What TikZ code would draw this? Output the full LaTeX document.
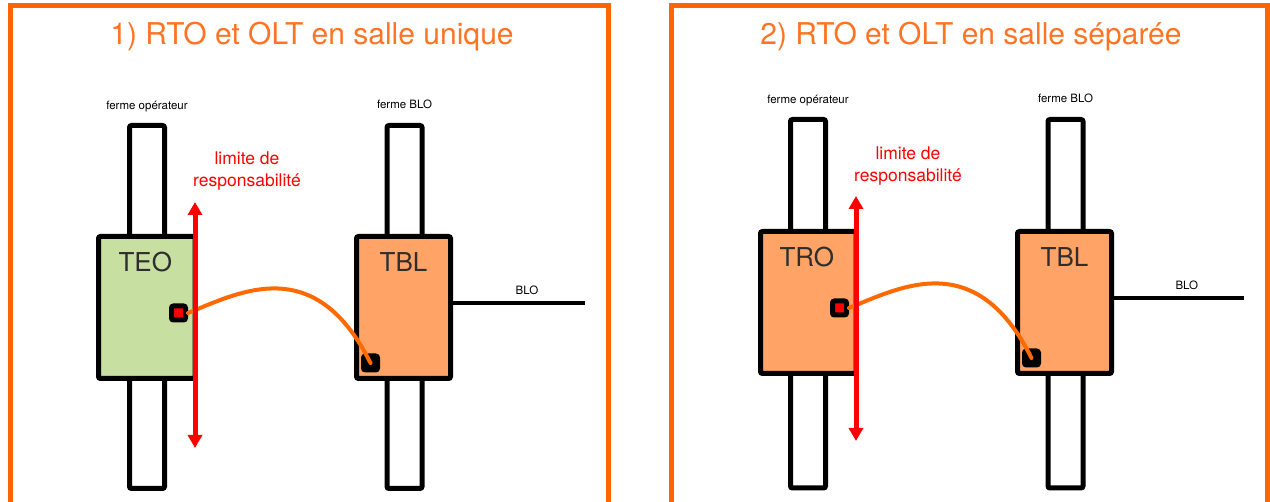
\documentclass[tikz,border=0pt]{standalone}
\usepackage{fontspec}
\setmainfont{TeX Gyre Heros}
\usetikzlibrary{positioning,arrows.meta}

\definecolor{orangecadre}{HTML}{FF6600}
\definecolor{orangetitre}{HTML}{FF7424}
\definecolor{vert}{HTML}{C8DFA2}
\definecolor{orangeclair}{HTML}{FFA466}
\definecolor{cable}{HTML}{FF6A00}
\definecolor{gristexte}{HTML}{2E2E2E}

\begin{document}
\begin{tikzpicture}[x=1pt,y=-1pt,
  cadre/.style={draw=orangecadre,line width=5pt},
  titre/.style={text=orangetitre,font=\fontsize{30}{32}\selectfont,inner sep=0pt,anchor=base},
  colonne/.style={draw,line width=5pt,fill=white,rounded corners=2pt,minimum width=35pt,inner sep=0pt},
  tiroir/.style={draw,line width=5pt,rounded corners=2pt,minimum width=94pt,minimum height=142pt,inner sep=0pt},
  port/.style={draw,line width=5pt,rounded corners=2pt,minimum size=14pt,inner sep=0pt},
  nom/.style={text=gristexte,font=\fontsize{26}{26}\selectfont,inner sep=0pt},
  petit/.style={font=\fontsize{11.5}{12}\selectfont,inner sep=0pt},
  limite/.style={text=red,font=\fontsize{17.5}{22}\selectfont,align=center,inner sep=0pt},
  fleche/.style={red,line width=5pt,{Triangle[width=14pt,length=13pt]}-{Triangle[width=14pt,length=13pt]}},
  jarretiere/.style={draw=cable,line width=4pt,line cap=round},
  lien/.style={line width=4pt}]
  \useasboundingbox (0,0) rectangle (1270,502);

  % 1) salle unique
  \draw[cadre] (10,5.5) rectangle (608.5,505);
  \node[titre] (titre1) at (312,45) {1) RTO et OLT en salle unique};
  \node[colonne,minimum height=363pt] (opcol1) at (147,307) {};
  \node[colonne,minimum height=363pt] (blocol1) at (404.5,307) {};
  \node[petit,above=11pt of opcol1.north] (ferme1) {ferme opérateur};
  \node[petit,above=14pt of blocol1.north] (fermeblo1) {ferme BLO};
  \node[tiroir,fill=vert,minimum width=96.5pt] (teo) at (146.75,307.5) {};
  \node[tiroir,fill=orangeclair] (tbl1) at (403.5,307.5) {};
  \node[nom,below=18pt of teo.north,xshift=-1.5pt] (teolbl) {TEO};
  \node[nom,below=18pt of tbl1.north] (tbllbl1) {TBL};
  \coordinate (blo1) at (585,303);
  \draw[lien] (tbl1.east |- blo1) -- node[petit,pos=0.56,above=6pt] (blolbl1) {BLO} (blo1);
  \node[port,fill=red] (p1) at (178.5,313) {};
  \node[port,fill=black] (q1) at (370.5,363) {};
  \draw[jarretiere] (p1.east) .. controls (240,292) and (315,252) .. (q1.center);
  \coordinate (haut1) at (195,202);
  \coordinate (bas1) at (195,448);
  \draw[fleche] (haut1) -- (bas1);
  \node[limite] (lim1) at (247,171) {limite de\\responsabilité};

  % 2) salle separee
  \draw[cadre] (671.5,5.5) rectangle (1267.5,505);
  \node[titre] (titre2) at (971,45) {2) RTO et OLT en salle séparée};
  \node[colonne,minimum height=368.5pt] (opcol2) at (808,303.75) {};
  \node[colonne,minimum height=368.5pt] (blocol2) at (1065.5,303.75) {};
  \node[petit,above=11pt of opcol2.north] (ferme2) {ferme opérateur};
  \node[petit,above=14pt of blocol2.north] (fermeblo2) {ferme BLO};
  \node[tiroir,fill=orangeclair,minimum width=95.5pt] (tro) at (808.25,302.5) {};
  \node[tiroir,fill=orangeclair] (tbl2) at (1064.5,302.5) {};
  \node[nom,below=18pt of tro.north,xshift=-1.5pt] (trolbl) {TRO};
  \node[nom,below=18pt of tbl2.north] (tbllbl2) {TBL};
  \coordinate (blo2) at (1244,298);
  \draw[lien] (tbl2.east |- blo2) -- node[petit,pos=0.56,above=6pt] (blolbl2) {BLO} (blo2);
  \node[port,fill=red] (p2) at (839.5,308) {};
  \node[port,fill=black] (q2) at (1031.5,358) {};
  \draw[jarretiere] (p2.east) .. controls (901,287) and (976,247) .. (q2.center);
  \coordinate (haut2) at (856,196);
  \coordinate (bas2) at (856,441);
  \draw[fleche] (haut2) -- (bas2);
  \node[limite] (lim2) at (908,166) {limite de\\responsabilité};
\end{tikzpicture}
\end{document}
